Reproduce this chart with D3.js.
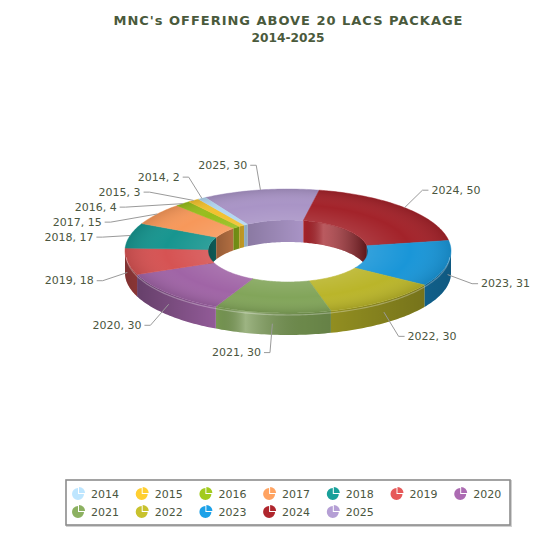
<!DOCTYPE html>
<html>
<head>
<meta charset="utf-8">
<script src="https://cdn.jsdelivr.net/npm/d3@7"></script>
<style>
  body { margin: 0; background: #fff; }
  svg { display: block; font-family: "DejaVu Sans", Verdana, sans-serif; }
</style>
</head>
<body>
<div id="chart"></div>
<script>
// Data
const years = ["2014", "2015", "2016", "2017", "2018", "2019", "2020", "2021", "2022", "2023", "2024", "2025"];
const packages = [2, 3, 4, 15, 17, 18, 30, 30, 30, 31, 50, 30];
const sliceColors = ["#b1d6f0", "#f2c12e", "#97bd1c", "#f7985a", "#17958f", "#d65353",
                     "#a064a6", "#82a55a", "#bab52a", "#1a96d8", "#a3232a", "#a994c6"];
const titleLines = ["MNC's OFFERING ABOVE 20 LACS PACKAGE", "2014-2025"];

const W = 551, H = 553;
const cx = 288, cy = 251;          // centre of top face
const rx = 163, ry = 62;           // outer ellipse
const irx = 80, iry = 31;          // inner ellipse
const depth = 22;
const START = -30.5 * Math.PI / 180;
const textColor = "#4b5640";

const svg = d3.select("#chart").append("svg").attr("width", W).attr("height", H);
const defs = svg.append("defs");

// gradients (overlays)
const topShade = defs.append("radialGradient")
  .attr("id", "topShade").attr("gradientUnits", "userSpaceOnUse")
  .attr("cx", 0).attr("cy", 0).attr("r", 1)
  .attr("gradientTransform", `translate(${cx},${cy}) scale(${rx},${ry})`);
[[0.45, "#fff", 0.12], [0.75, "#fff", 0], [1, "#000", 0.12]].forEach(([o, c, a]) =>
  topShade.append("stop").attr("offset", o).attr("stop-color", c).attr("stop-opacity", a));

const sideShade = defs.append("linearGradient")
  .attr("id", "sideShade").attr("gradientUnits", "userSpaceOnUse")
  .attr("x1", cx - rx).attr("x2", cx + rx).attr("y1", 0).attr("y2", 0);
[[0, "#000", 0.35], [0.28, "#000", 0.0], [0.37, "#fff", 0.28], [0.55, "#000", 0.1], [1, "#000", 0.35]]
  .forEach(([o, c, a]) =>
    sideShade.append("stop").attr("offset", o).attr("stop-color", c).attr("stop-opacity", a));

const innerShade = defs.append("linearGradient")
  .attr("id", "innerShade").attr("gradientUnits", "userSpaceOnUse")
  .attr("x1", cx - irx).attr("x2", cx + irx).attr("y1", 0).attr("y2", 0);
[[0, "#000", 0.45], [0.25, "#000", 0.18], [0.6, "#000", 0.0], [0.72, "#fff", 0.25], [1, "#000", 0.45]]
  .forEach(([o, c, a]) =>
    innerShade.append("stop").attr("offset", o).attr("stop-color", c).attr("stop-opacity", a));

// angle measured clockwise from 12 o'clock, projected on an ellipse
const pt = (a, ex, ey, dy = 0) => [cx + ex * Math.sin(a), cy - ey * Math.cos(a) + dy];
const sweep = (a0, a1) => {
  const n = Math.max(2, Math.ceil((a1 - a0) / 0.02));
  return d3.range(n + 1).map(k => a0 + (a1 - a0) * k / n);
};
const clip = (a0, a1, lo, hi) => {
  const s = Math.max(a0, lo), e = Math.min(a1, hi);
  return e > s ? [s, e] : null;
};
const line = d3.line();

const rows = years.map((y, i) => ({ year: y, value: packages[i], color: sliceColors[i] }));
const pie = d3.pie().sort(null).value(d => d.value)
  .startAngle(START).endAngle(START + 2 * Math.PI);
const arcs = pie(rows.slice().reverse());

const PI = Math.PI;
const gInner = svg.append("g");
const gSide = svg.append("g");
const gTop = svg.append("g");

arcs.forEach(a => {
  const col = a.data.color;
  // far inner wall (visible through the hole)
  [clip(a.startAngle, a.endAngle, -PI / 2, PI / 2), clip(a.startAngle, a.endAngle, 1.5 * PI, 2.5 * PI)]
    .filter(Boolean).forEach(([s, e]) => {
      const t = sweep(s, e);
      const pts = t.map(v => pt(v, irx, iry)).concat(t.slice().reverse().map(v => pt(v, irx, iry, depth)));
      const d = line(pts) + "Z";
      gInner.append("path").attr("d", d).attr("fill", col);
      gInner.append("path").attr("d", d).attr("fill", "url(#innerShade)");
    });
  // front outer side
  const f = clip(a.startAngle, a.endAngle, PI / 2, 1.5 * PI);
  if (f) {
    const t = sweep(f[0], f[1]);
    const pts = t.map(v => pt(v, rx, ry)).concat(t.slice().reverse().map(v => pt(v, rx, ry, depth)));
    const d = line(pts) + "Z";
    gSide.append("path").attr("d", d).attr("fill", d3.color(col).darker(0.25));
    gSide.append("path").attr("d", d).attr("fill", "url(#sideShade)");
  }
  // top face
  const t = sweep(a.startAngle, a.endAngle);
  const pts = t.map(v => pt(v, rx, ry)).concat(t.slice().reverse().map(v => pt(v, irx, iry)));
  const d = line(pts) + "Z";
  gTop.append("path").attr("d", d).attr("fill", col).attr("stroke", col).attr("stroke-width", 0.5);
  gTop.append("path").attr("d", d).attr("fill", "url(#topShade)");
});

// rim highlight along the front edge
svg.append("path")
  .attr("d", line(sweep(PI / 2 + 0.05, 1.5 * PI - 0.05).map(v => pt(v, rx - 1, ry - 1, 3))))
  .attr("fill", "none").attr("stroke", "#fff").attr("stroke-opacity", 0.3).attr("stroke-width", 1.2);

// labels
const gLab = svg.append("g");
const ext = 25, hLen = 6, gap = 3, lineGap = 15;
const labels = arcs.map(a => {
  const mid = (a.startAngle + a.endAngle) / 2;
  const left = Math.sin(mid) < 0;
  const front = Math.cos(mid) < 0;
  const off = front ? 15 : 0;
  const [ax, ay] = pt(mid, rx, ry, front ? depth / 2 : 0);
  const [ex, ey] = pt(mid, rx + ext, ry + ext, off);
  const text = gLab.append("text")
    .attr("font-size", 11).attr("fill", textColor).attr("dominant-baseline", "central")
    .attr("text-anchor", left ? "end" : "start")
    .text(`${a.data.year}, ${a.data.value}`);
  return { left, off, ax, ay, x: ex, y: ey, text, w: text.node().getComputedTextLength() };
});
const span = L => L.left ? [L.x - hLen - gap - L.w, L.x - hLen - gap] : [L.x + hLen + gap, L.x + hLen + gap + L.w];
[true, false].forEach(side => {
  const list = labels.filter(L => L.left === side).sort((p, q) => p.y - q.y);
  const placed = [];
  list.forEach(L => {
    placed.forEach(P => {
      const [l1, r1] = span(L), [l2, r2] = span(P);
      if (l1 < r2 && l2 < r1 && L.y < P.y + lineGap) {
        L.y = P.y + lineGap;
        const k = Math.max(-1, Math.min(1, (L.y - cy - L.off) / (ry + ext)));
        L.x = cx + (side ? -1 : 1) * (rx + ext) * Math.sqrt(1 - k * k);
      }
    });
    placed.push(L);
  });
});
labels.forEach(L => {
  const hx = L.left ? L.x - hLen : L.x + hLen;
  gLab.append("path")
    .attr("d", line([[L.ax, L.ay], [L.x, L.y], [hx, L.y]]))
    .attr("fill", "none").attr("stroke", "#9a9a9a").attr("stroke-width", 1);
  L.text.attr("x", L.left ? hx - gap : hx + gap).attr("y", L.y);
});

// title
const title = svg.append("g");
title.append("text")
  .attr("x", cx).attr("y", 20).attr("text-anchor", "middle").attr("dominant-baseline", "central")
  .attr("font-size", 13).attr("font-weight", "bold").attr("fill", "#4a5a3c")
  .attr("textLength", 349).attr("lengthAdjust", "spacing")
  .text(titleLines[0]);
title.append("text")
  .attr("x", cx).attr("y", 38).attr("text-anchor", "middle").attr("dominant-baseline", "central")
  .attr("font-size", 12.2).attr("font-weight", "bold").attr("fill", "#4a5a3c")
  .text(titleLines[1]);

// legend
const legend = svg.append("g");
legend.append("rect").attr("x", 67).attr("y", 481).attr("width", 444).attr("height", 45)
  .attr("fill", "none").attr("stroke", "#d0d0d0").attr("stroke-width", 2);
legend.append("rect").attr("x", 66).attr("y", 480).attr("width", 444).attr("height", 45)
  .attr("fill", "#fff").attr("stroke", "#8c8c8c").attr("stroke-width", 1.6);
const iconBody = d3.arc().innerRadius(0).outerRadius(6).startAngle(PI / 2).endAngle(2 * PI);
const iconWedge = d3.arc().innerRadius(0).outerRadius(6).startAngle(0).endAngle(PI / 2);
const item = legend.selectAll("g.item").data(rows).join("g").attr("class", "item")
  .attr("transform", (d, i) => `translate(${78 + (i % 7) * 63.7},${494 + Math.floor(i / 7) * 18})`);
item.append("path").attr("d", iconBody()).attr("fill", d => d3.color(d.color).brighter(0.2));
item.append("path").attr("d", iconWedge()).attr("transform", "translate(1,-1)")
  .attr("fill", d => d3.color(d.color).brighter(0.2));
item.append("text").attr("x", 13).attr("y", 0).attr("dominant-baseline", "central")
  .attr("font-size", 11).attr("fill", textColor).text(d => d.year);
</script>
</body>
</html>
